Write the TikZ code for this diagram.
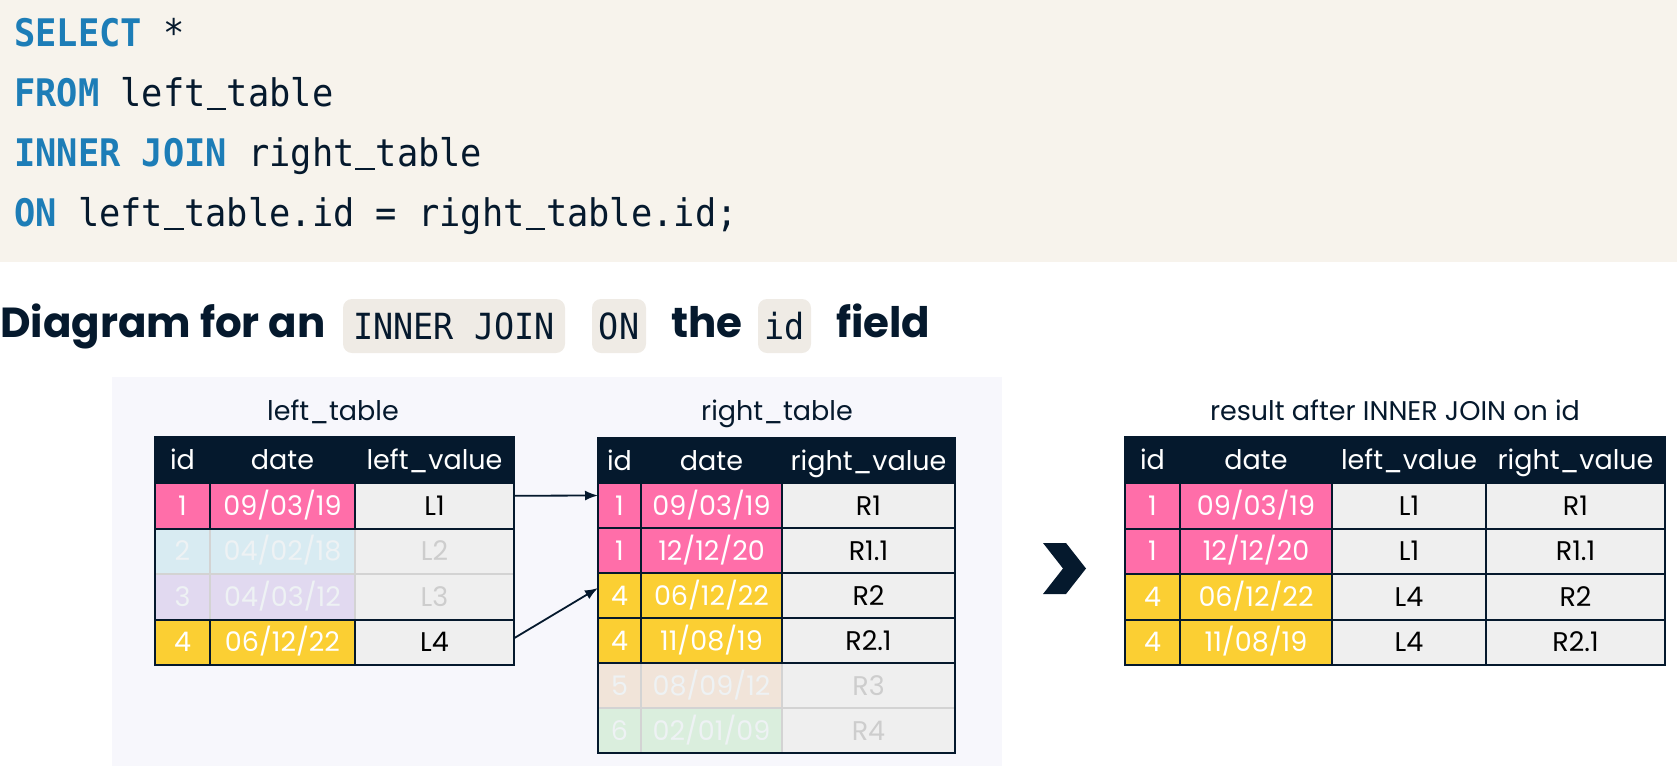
\documentclass[tikz,border=0pt]{standalone}
\usepackage{fontspec}
\setmainfont{Poppins}
\newfontfamily\codefont[FakeStretch=0.93]{DejaVu Sans Mono}
\usetikzlibrary{arrows.meta}
\definecolor{navy}{HTML}{05192D}
\definecolor{kwblue}{HTML}{1D7DB7}
\definecolor{beige}{HTML}{F7F3EC}
\definecolor{pillc}{HTML}{EFEBE5}
\definecolor{panel}{HTML}{F7F7FC}
\definecolor{pinkc}{HTML}{FF6EA9}
\definecolor{yellowc}{HTML}{FBCF33}
\definecolor{cellg}{HTML}{EFEFEF}
\definecolor{fblue}{HTML}{D8EBF2}
\definecolor{fpurple}{HTML}{E1D9F0}
\definecolor{fpeach}{HTML}{F1E4D9}
\definecolor{fgreen}{HTML}{DAEEDD}
\definecolor{fadetext}{HTML}{EEF2F4}
\definecolor{fadeval}{HTML}{CDCDCD}
\definecolor{fadeline}{HTML}{D3D3D3}
\newcommand\tabfont{\fontsize{27}{32}\selectfont}
\newcommand\kw[1]{{\bfseries\color{kwblue}#1}}
\newcommand\us{\makebox[\fontcharwd\font`x][c]{\rule[-0.11em]{0.92\fontcharwd\font`x}{0.065em}}}
\newcommand\cellat[7]{\node[#6, minimum width={(#3-#2)*1pt}, minimum height={(#5-#4)*1pt}] (#1) at ({(#2+#3)/2},{(#4+#5)/2}) {#7};}
\begin{document}
\begin{tikzpicture}[x=1pt,y=-1pt,
  codeline/.style={anchor=base west, inner sep=0pt, text=navy, font=\codefont\fontsize{38}{44}\selectfont},
  head/.style={anchor=base west, inner sep=0pt, text=navy, font=\bfseries\fontsize{42}{48}\selectfont},
  pill/.style={fill=pillc, rounded corners=9pt, minimum height=54pt, inner sep=0pt, text=navy, font=\codefont\fontsize{36}{40}\selectfont, text height=26pt, text depth=0pt},
  title/.style={anchor=base, inner sep=0pt, text=navy, font=\tabfont},
  hd/.style={draw=navy, fill=navy, text=white, line width=2pt, inner sep=0pt, outer sep=0pt, font=\tabfont, text height=19pt, text depth=0pt},
  pk/.style={hd, fill=pinkc},
  yl/.style={hd, fill=yellowc},
  vl/.style={hd, fill=cellg, text=black},
  fb/.style={hd, draw=fadeline, line width=1.5pt, fill=fblue, text=fadetext},
  fp/.style={hd, draw=fadeline, line width=1.5pt, fill=fpurple, text=fadetext},
  fe/.style={hd, draw=fadeline, line width=1.5pt, fill=fpeach, text=fadetext},
  fg/.style={hd, draw=fadeline, line width=1.5pt, fill=fgreen, text=fadetext},
  fv/.style={hd, draw=fadeline, line width=1.5pt, fill=cellg, text=fadeval},
  frame/.style={draw=navy, line width=1.5pt},
  arr/.style={draw=navy, line width=1.8pt, -{Latex[length=13pt,width=10pt]}}
]
\useasboundingbox (0,0) rectangle (1677,766);
\fill[beige] (0,0) rectangle (1677,262);
\fill[panel] (112,377) rectangle (1002,766);

% code
\node[codeline] (c1) at (14,46) {\kw{SELECT} *};
\node[codeline] (c2) at (14,106) {\kw{FROM} left\us table};
\node[codeline] (c3) at (14,166) {\kw{INNER JOIN} right\us table};
\node[codeline] (c4) at (14,226) {\kw{ON} left\us table.id = right\us table.id;};

% heading
\node[head] (h1) at (0,337) {Diagram for an};
\node[pill, minimum width=222pt] (p1) at (454,326) {INNER JOIN};
\node[pill, minimum width=54pt] (p2) at (619,326) {ON};
\node[head] (h2) at (671,337) {the};
\node[pill, minimum width=53pt] (p3) at (784.5,326) {id};
\node[head] (h3) at (836,337) {field};

% titles
\node[title] (tl) at (333,420) {left\_table};
\node[title] (tr) at (777,420) {right\_table};
\node[title] (tres) at (1395,420) {result after INNER JOIN on id};

% left table
\cellat{l2a}{155}{210}{528.5}{574}{fb}{2}
\cellat{l2b}{210}{355}{528.5}{574}{fb}{04/02/18}
\cellat{l2c}{355}{514}{528.5}{574}{fv}{L2}
\cellat{l3a}{155}{210}{574}{619.5}{fp}{3}
\cellat{l3b}{210}{355}{574}{619.5}{fp}{04/03/12}
\cellat{l3c}{355}{514}{574}{619.5}{fv}{L3}
\cellat{lh1}{155}{210}{437}{483}{hd}{id}
\cellat{lh2}{210}{355}{437}{483}{hd}{date}
\cellat{lh3}{355}{514}{437}{483}{hd}{left\_value}
\cellat{l1a}{155}{210}{483}{528.5}{pk}{1}
\cellat{l1b}{210}{355}{483}{528.5}{pk}{09/03/19}
\cellat{l1c}{355}{514}{483}{528.5}{vl}{L1}
\cellat{l4a}{155}{210}{619.5}{665}{yl}{4}
\cellat{l4b}{210}{355}{619.5}{665}{yl}{06/12/22}
\cellat{l4c}{355}{514}{619.5}{665}{vl}{L4}
\draw[frame] (lh1.north west) rectangle (l4c.south east);

% right table
\cellat{r5a}{598}{641}{663}{708}{fe}{5}
\cellat{r5b}{641}{782}{663}{708}{fe}{08/09/12}
\cellat{r5c}{782}{955}{663}{708}{fv}{R3}
\cellat{r6a}{598}{641}{708}{753}{fg}{6}
\cellat{r6b}{641}{782}{708}{753}{fg}{02/01/09}
\cellat{r6c}{782}{955}{708}{753}{fv}{R4}
\cellat{rh1}{598}{641}{438}{483}{hd}{id}
\cellat{rh2}{641}{782}{438}{483}{hd}{date}
\cellat{rh3}{782}{955}{438}{483}{hd}{right\_value}
\cellat{r1a}{598}{641}{483}{528}{pk}{1}
\cellat{r1b}{641}{782}{483}{528}{pk}{09/03/19}
\cellat{r1c}{782}{955}{483}{528}{vl}{R1}
\cellat{r2a}{598}{641}{528}{573}{pk}{1}
\cellat{r2b}{641}{782}{528}{573}{pk}{12/12/20}
\cellat{r2c}{782}{955}{528}{573}{vl}{R1.1}
\cellat{r3a}{598}{641}{573}{618}{yl}{4}
\cellat{r3b}{641}{782}{573}{618}{yl}{06/12/22}
\cellat{r3c}{782}{955}{573}{618}{vl}{R2}
\cellat{r4a}{598}{641}{618}{663}{yl}{4}
\cellat{r4b}{641}{782}{618}{663}{yl}{11/08/19}
\cellat{r4c}{782}{955}{618}{663}{vl}{R2.1}
\draw[frame] (rh1.north west) rectangle (r6c.south east);

% result table
\cellat{sh1}{1125}{1180}{437}{483}{hd}{id}
\cellat{sh2}{1180}{1332}{437}{483}{hd}{date}
\cellat{sh3}{1332}{1486}{437}{483}{hd}{left\_value}
\cellat{sh4}{1486}{1665}{437}{483}{hd}{right\_value}
\cellat{s1a}{1125}{1180}{483}{528.5}{pk}{1}
\cellat{s1b}{1180}{1332}{483}{528.5}{pk}{09/03/19}
\cellat{s1c}{1332}{1486}{483}{528.5}{vl}{L1}
\cellat{s1d}{1486}{1665}{483}{528.5}{vl}{R1}
\cellat{s2a}{1125}{1180}{528.5}{574}{pk}{1}
\cellat{s2b}{1180}{1332}{528.5}{574}{pk}{12/12/20}
\cellat{s2c}{1332}{1486}{528.5}{574}{vl}{L1}
\cellat{s2d}{1486}{1665}{528.5}{574}{vl}{R1.1}
\cellat{s3a}{1125}{1180}{574}{619.5}{yl}{4}
\cellat{s3b}{1180}{1332}{574}{619.5}{yl}{06/12/22}
\cellat{s3c}{1332}{1486}{574}{619.5}{vl}{L4}
\cellat{s3d}{1486}{1665}{574}{619.5}{vl}{R2}
\cellat{s4a}{1125}{1180}{619.5}{665}{yl}{4}
\cellat{s4b}{1180}{1332}{619.5}{665}{yl}{11/08/19}
\cellat{s4c}{1332}{1486}{619.5}{665}{vl}{L4}
\cellat{s4d}{1486}{1665}{619.5}{665}{vl}{R2.1}
\draw[frame] (sh1.north west) rectangle (s4d.south east);

% connectors
\draw[arr] ([yshift=10pt]l1c.east) -- ([yshift=10pt]r1a.west);
\draw[arr] ([yshift=4pt]l4c.east) -- ([yshift=7.5pt]r3a.west);

% chevron
\fill[navy] (1043,543) -- (1066,543) -- (1086,568.5) -- (1066,594) -- (1043,594) -- (1063,568.5) -- cycle;
\end{tikzpicture}
\end{document}
